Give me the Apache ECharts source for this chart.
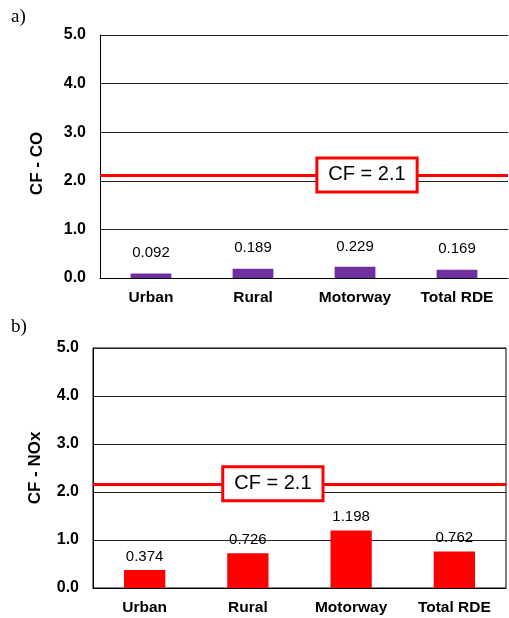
<!DOCTYPE html>
<html>
<head>
<meta charset="utf-8">
<script src="https://cdn.jsdelivr.net/npm/echarts@6/dist/echarts.min.js"></script>
<style>html,body{margin:0;padding:0;background:#fff}#c{width:509px;height:618px}</style>
</head>
<body>
<div id="c"></div>
<script>
var categories = ['Urban', 'Rural', 'Motorway', 'Total RDE'];
var cfCO = [0.092, 0.189, 0.229, 0.169];
var cfNOx = [0.374, 0.726, 1.198, 0.762];
var limitCO = 2.12;
var limitNOx = 2.17;
var limitLabel = 'CF = 2.1';
var yTicks = [0, 1, 2, 3, 4, 5];

var chart = echarts.init(document.getElementById('c'));
var font = 'Arial, "Liberation Sans", sans-serif';

function yAxis(idx, name, gap) {
  return {
    type: 'value', gridIndex: idx, min: 0, max: 5, interval: 1,
    name: name, nameLocation: 'middle', nameRotate: 90, nameGap: gap,
    nameTextStyle: {fontFamily: font, fontWeight: 'bold', fontSize: 17, color: '#000', padding: idx === 0 ? [0, 14, 0, 0] : 0},
    axisLine: {show: true, lineStyle: {color: '#000', width: 1}},
    axisTick: {show: false},
    axisLabel: {margin: 14, fontFamily: font, fontWeight: 'bold', fontSize: 16, color: '#000',
      formatter: function (v) { return v.toFixed(1); }},
    splitLine: {show: true, lineStyle: {color: '#222', width: 1}}
  };
}
function xAxis(idx) {
  return {
    type: 'category', gridIndex: idx, data: categories,
    axisLine: {show: true, lineStyle: {color: '#000', width: 1}},
    axisTick: {show: false},
    axisLabel: {margin: 12, fontFamily: font, fontWeight: 'bold', fontSize: 15.5, color: '#000'}
  };
}
function series(idx, values, color, limit, catIdx, offX, dist) {
  return {
    type: 'bar', xAxisIndex: idx, yAxisIndex: idx, data: values,
    barWidth: '40%',
    itemStyle: {color: color},
    label: {show: true, position: 'top', distance: dist, fontFamily: font, fontSize: 15, color: '#000',
      formatter: function (p) { return p.value.toFixed(3); }},
    markLine: {
      silent: true, symbol: 'none',
      lineStyle: {color: '#ff0000', width: 3, type: 'solid'},
      label: {show: false},
      data: [{yAxis: limit}]
    },
    markPoint: {
      silent: true, symbol: 'rect', symbolSize: 0,
      data: [{coord: [categories[catIdx], limit]}],
      label: {show: true, position: 'inside', offset: [offX, 0], formatter: limitLabel,
        fontFamily: font, fontSize: 20, color: '#000', backgroundColor: '#fff',
        borderColor: '#ff0000', borderWidth: 3, borderRadius: 0, padding: [6, 10, 5, 10]}
    }
  };
}

chart.setOption({
  animation: false,
  backgroundColor: '#fff',
  title: [
    {text: 'a)', left: 6, top: 3, textStyle: {fontFamily: '"Liberation Serif", "Times New Roman", serif', fontWeight: 'normal', fontSize: 19, color: '#000'}},
    {text: 'b)', left: 6, top: 313, textStyle: {fontFamily: '"Liberation Serif", "Times New Roman", serif', fontWeight: 'normal', fontSize: 19, color: '#000'}}
  ],
  grid: [
    {left: 100, top: 35, width: 408, height: 243},
    {left: 93, top: 348, width: 413, height: 240, show: true, borderColor: '#000', borderWidth: 1, backgroundColor: 'transparent'}
  ],
  xAxis: [xAxis(0), xAxis(1)],
  yAxis: [yAxis(0, 'CF - CO', 54), yAxis(1, 'CF - NOx', 49)],
  series: [
    series(0, cfCO, '#7030a0', limitCO, 2, 12, 13),
    series(1, cfNOx, '#ff0000', limitNOx, 1, 25, 6)
  ]
});
</script>
</body>
</html>
